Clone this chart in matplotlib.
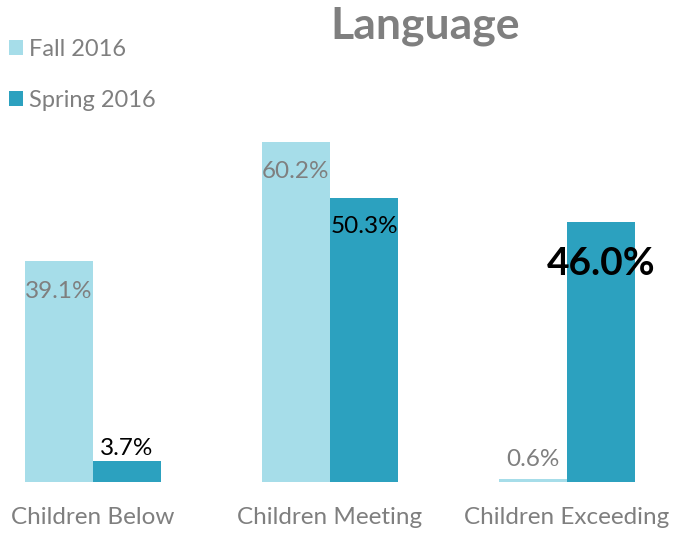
import matplotlib.pyplot as plt
from matplotlib.patches import Patch
import numpy as np

plt.rcParams['font.family'] = ['Lato', 'DejaVu Sans']

# Data
categories = ["Children Below", "Children Meeting", "Children Exceeding"]
fall_2016 = [39.1, 60.2, 0.6]
spring_2016 = [3.7, 50.3, 46.0]

fall_color = "#A6DDE9"
spring_color = "#2CA1BF"
gray = "#7F7F7F"

fig = plt.figure(figsize=(6.74, 5.33), dpi=100)
ax = fig.add_axes([0, 51 / 533, 1, 482 / 533])

x = np.arange(len(categories))
w = 0.287
ax.bar(x - w / 2, fall_2016, width=w, color=fall_color)
ax.bar(x + w / 2, spring_2016, width=w, color=spring_color)

ax.set_xlim(-93 / 237, 581 / 237)
ax.set_ylim(0, 85.3)
ax.axis("off")

# value labels
for i, v in enumerate(fall_2016):
    if v > 5:
        ax.text(x[i] - w / 2, v - 5.3, f"{v:.1f}%", ha="center", va="center",
                fontsize=17.5, color=gray)
    else:
        ax.text(x[i] - w / 2, v + 3.4, f"{v:.1f}%", ha="center", va="center",
                fontsize=17.5, color=gray)

ax.text(x[0] + w / 2, spring_2016[0] + 0.3, f"{spring_2016[0]:.1f}%", ha="center",
        va="bottom", fontsize=17.5, color="black")
ax.text(x[1] + w / 2, spring_2016[1] - 5.1, f"{spring_2016[1]:.1f}%", ha="center",
        va="center", fontsize=17.5, color="black")
ax.text(x[2] + w / 2, spring_2016[2] - 7.3, f"{spring_2016[2]:.1f}%", ha="center",
        va="center", fontsize=28, fontweight="bold", color="black")

# category labels
for i, c in enumerate(categories):
    fig.text(x[i] * 237 / 674 + 93 / 674, 1 - 517 / 533, c, ha="center", va="center",
             fontsize=17.5, color=gray)

fig.text(425 / 674, 1 - 26 / 533, "Language", ha="center", va="center",
         fontsize=32, fontweight="bold", color=gray)

legend_elements = [Patch(facecolor=fall_color, label="Fall 2016"),
                   Patch(facecolor=spring_color, label="Spring 2016")]
fig.legend(handles=legend_elements, loc="upper left", bbox_to_anchor=(-8 / 674, 1 - 22 / 533),
           frameon=False, fontsize=17, labelcolor=gray, handlelength=0.6,
           handleheight=0.6, handletextpad=0.25, labelspacing=1.3, borderaxespad=0.3)

plt.savefig("out.png", dpi=100)
